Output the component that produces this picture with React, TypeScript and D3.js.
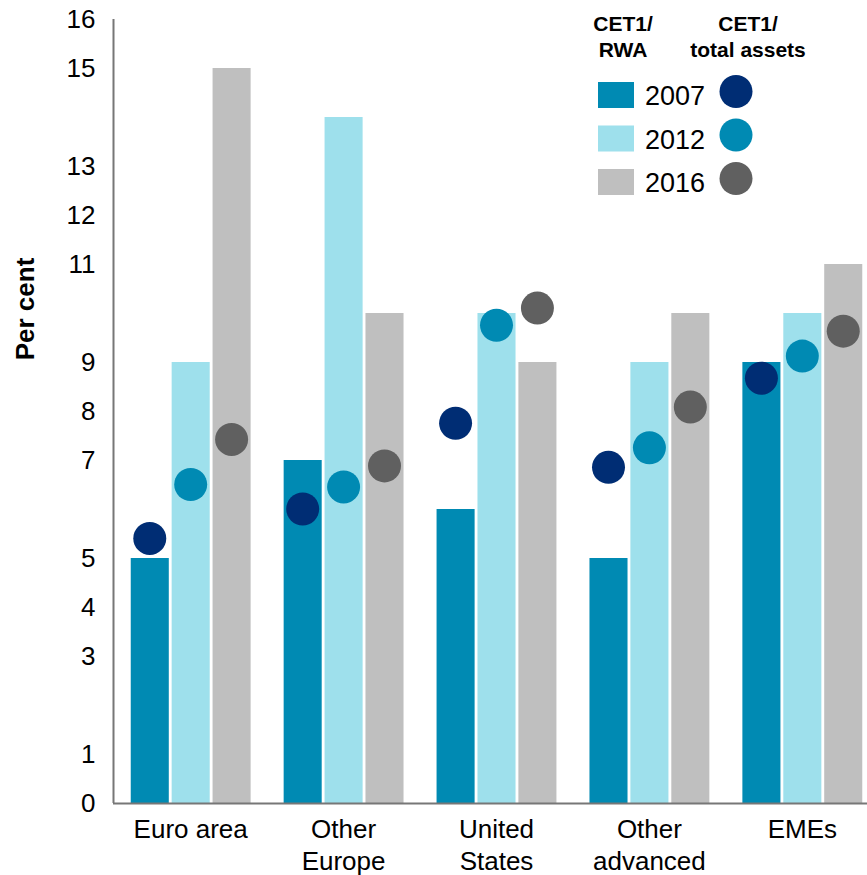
import React, { useEffect, useRef } from 'react'
import { axisLeft, scaleBand, scaleLinear, select } from 'd3'

const categories = ['Euro area', 'Other Europe', 'United States', 'Other advanced', 'EMEs']
const categoryLines = [['Euro area'], ['Other', 'Europe'], ['United', 'States'], ['Other', 'advanced'], ['EMEs']]
const years = ['2007', '2012', '2016']

// CET1 / RWA (bars)
const rwa2007 = [5, 7, 6, 5, 9]
const rwa2012 = [9, 14, 10, 9, 10]
const rwa2016 = [15, 10, 9, 10, 11]

// CET1 / total assets (dots)
const ta2007 = [5.4, 6.0, 7.75, 6.85, 8.67]
const ta2012 = [6.5, 6.45, 9.75, 7.25, 9.12]
const ta2016 = [7.42, 6.88, 10.1, 8.08, 9.63]

const yTicks = [0, 1, 3, 4, 5, 7, 8, 9, 11, 12, 13, 15, 16]

const barColors = ['#008ab3', '#9ee0ec', '#bfbfbf']
const dotColors = ['#002d74', '#008ab3', '#606060']

const App = () => {
  const ref = useRef(null)

  useEffect(() => {
    main()
  }, [])

  const main = () => {
    const svg = select(ref.current)
    svg.selectAll('*').remove()
    const font = 'Liberation Sans, Arial, sans-serif'

    const barSeries = [rwa2007, rwa2012, rwa2016]
    const dotSeries = [ta2007, ta2012, ta2016]

    const x0 = scaleBand().domain(categories).range([113, 880]).paddingInner(0.216).paddingOuter(0.116)
    const x1 = scaleBand().domain(years).range([0, x0.bandwidth()]).paddingInner(0.07)
    const y = scaleLinear().domain([0, 16]).range([803, 19])

    // bars
    years.forEach((yr, i) => {
      svg.append('g')
        .selectAll('rect')
        .data(barSeries[i])
        .enter()
        .append('rect')
        .attr('x', (d, j) => x0(categories[j]) + x1(yr))
        .attr('y', (d) => y(d))
        .attr('width', x1.bandwidth())
        .attr('height', (d) => y(0) - y(d))
        .attr('fill', barColors[i])
    })

    // dots
    years.forEach((yr, i) => {
      svg.append('g')
        .selectAll('circle')
        .data(dotSeries[i])
        .enter()
        .append('circle')
        .attr('cx', (d, j) => x0(categories[j]) + x1(yr) + x1.bandwidth() / 2)
        .attr('cy', (d) => y(d))
        .attr('r', 16.5)
        .attr('fill', dotColors[i])
    })

    // y axis
    const ya = svg.append('g')
      .attr('transform', 'translate(113.5,0)')
      .call(axisLeft(y).tickValues(yTicks).tickSize(0).tickPadding(18))
    ya.select('.domain').attr('stroke', '#777').attr('stroke-width', 2).attr('d', `M0,${y(16)}V${y(0)}`)
    ya.selectAll('text').attr('font-family', font).attr('font-size', 26).attr('fill', '#000')

    // x axis line
    svg.append('line')
      .attr('x1', 113).attr('x2', 867)
      .attr('y1', 803.5).attr('y2', 803.5)
      .attr('stroke', '#777').attr('stroke-width', 2)

    // category labels
    categories.forEach((c, j) => {
      const cx = x0(c) + x0.bandwidth() / 2
      const t = svg.append('text')
        .attr('x', cx)
        .attr('y', 838)
        .attr('text-anchor', 'middle')
        .attr('font-family', font)
        .attr('font-size', 26)
        .attr('fill', '#000')
      categoryLines[j].forEach((line, k) => {
        t.append('tspan').attr('x', cx).attr('dy', k === 0 ? 0 : 32).text(line)
      })
    })

    // y title
    svg.append('text')
      .attr('transform', 'translate(34,309) rotate(-90)')
      .attr('text-anchor', 'middle')
      .attr('font-family', font)
      .attr('font-size', 26)
      .attr('font-weight', 'bold')
      .text('Per cent')

    // legend
    const lg = svg.append('g').attr('font-family', font)
    const head = (x, lines) => {
      const t = lg.append('text').attr('text-anchor', 'middle').attr('font-size', 21).attr('font-weight', 'bold').attr('y', 31)
      lines.forEach((l, k) => t.append('tspan').attr('x', x).attr('dy', k === 0 ? 0 : 26).text(l))
    }
    head(623, ['CET1/', 'RWA'])
    head(748, ['CET1/', 'total assets'])
    years.forEach((yr, i) => {
      const cy = 95 + i * 43.5
      lg.append('rect').attr('x', 598).attr('y', cy - 13).attr('width', 36).attr('height', 26).attr('fill', barColors[i])
      lg.append('text').attr('x', 645).attr('y', cy + 10).attr('font-size', 27).text(yr)
      lg.append('circle').attr('cx', 736).attr('cy', cy - 3.5).attr('r', 16.5).attr('fill', dotColors[i])
    })
  }

  return (
    <div style={{ position: 'absolute', left: 0, top: 0 }}>
      <svg ref={ref} width={867} height={875} style={{ display: 'block' }}></svg>
    </div>
  )
}

export default App
